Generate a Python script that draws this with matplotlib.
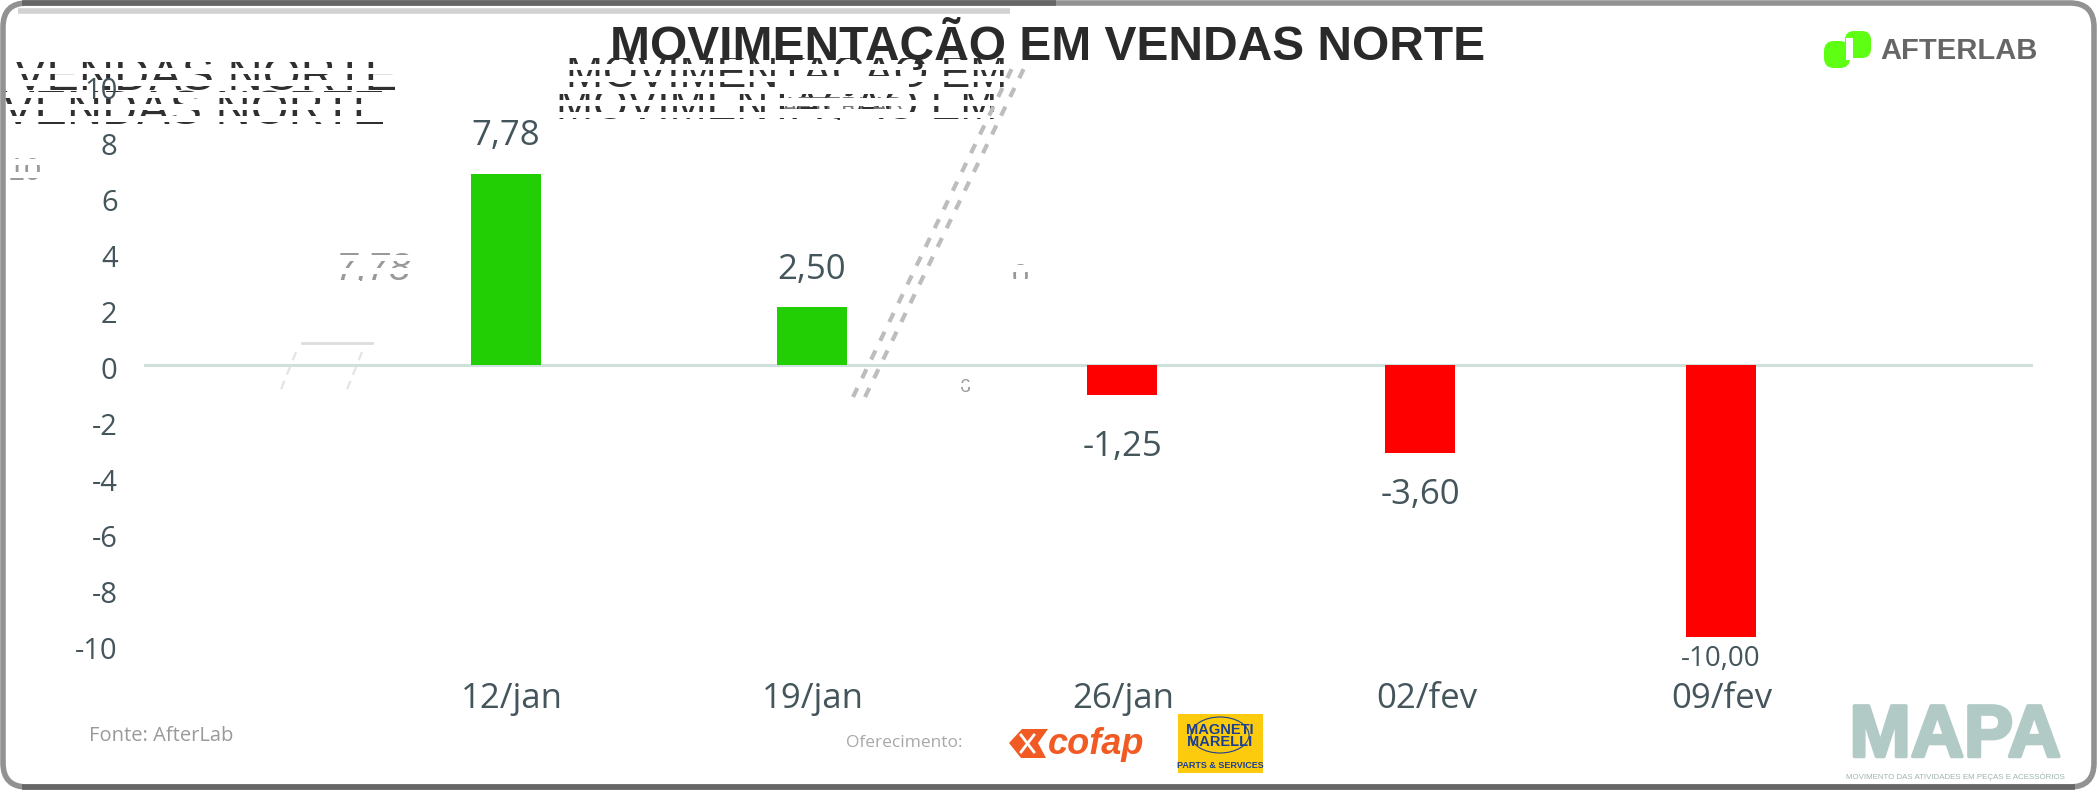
#! /usr/bin/env python3
# -*- coding: utf-8 -*-

import matplotlib
matplotlib.use("Agg")
import matplotlib.pyplot as plt
import matplotlib.patheffects as pe
from matplotlib.patches import FancyBboxPatch, Polygon, Rectangle, Ellipse
from matplotlib.transforms import ScaledTranslation

## Data

dates = ["12/jan", "19/jan", "26/jan", "02/fev", "09/fev"]
bar_values = [6.82, 2.07, -1.07, -3.14, -9.71]
value_labels = ["7,78", "2,50", "-1,25", "-3,60", "-10,00"]
y_ticks = [-10, -8, -6, -4, -2, 0, 2, 4, 6, 8, 10]

title = "MOVIMENTAÇÃO EM VENDAS NORTE"
source = "Fonte: AfterLab"
sponsor = "Oferecimento:"
mapa_caption = "MOVIMENTO DAS ATIVIDADES EM PEÇAS E ACESSÓRIOS"

## Layout (pixels of the 2097x790 picture)

W, H = 2097, 790
bar_px = [506, 812, 1122, 1420, 1721]
date_px = [512, 813, 1123, 1427, 1722]
label_gap = [38, 37, 52, 42, 22]
label_size = [25, 25, 25, 25, 20]

TEXT = "#44555c"
GREEN = "#22cf04"
RED = "#ff0000"

plt.rcParams["font.family"] = ["Open Sans", "DejaVu Sans"]

fig = plt.figure(figsize=(W / 100, H / 100), dpi=100, facecolor="white")

## Overlay in pixel coordinates, below the chart

ov = fig.add_axes([0, 0, 1, 1], zorder=0)
ov.set_xlim(0, W)
ov.set_ylim(H, 0)
ov.axis("off")


def striped(text, spots, x1, size, color, top, bottom, band, gap, style="normal"):
    # ghost copies of a text: white rows over them leave only thin rows visible
    x0 = min(s[0] for s in spots)
    for x, y in spots:
        ov.text(x, y, text, fontsize=size, color=color, style=style,
                family="Liberation Sans", ha="left", va="center", zorder=1)
    ov.add_patch(Rectangle((x0 - 4, top - 12), x1 - x0 + 8, 12, fc="white", ec="none", zorder=1.1))
    row = top + band
    while row < bottom:
        ov.add_patch(Rectangle((x0 - 4, row), x1 - x0 + 8, gap, fc="white", ec="none", zorder=1.1))
        row += band + gap
    ov.add_patch(Rectangle((x0 - 4, row), x1 - x0 + 8, 12, fc="white", ec="none", zorder=1.1))


## Ghost fragments

striped("VENDAS NORTE", [(14, 78), (2, 112)], 412, 35, "#303030", 62, 128, 6, 6)
striped("MOVIMENTAÇÃO EM", [(566, 72), (556, 104)], 1056, 32, "#303030", 58, 120, 6, 6)
striped("AFTERLAB", [(782, 108)], 905, 17, "#777777", 92, 128, 6, 5)
striped("7,78", [(336, 270)], 420, 28, "#999999", 248, 296, 7, 6, style="italic")
striped("10", [(8, 172)], 42, 22, "#999999", 152, 196, 7, 6)
striped("0", [(1012, 278)], 1034, 22, "#999999", 258, 300, 7, 7)
striped("6", [(960, 388)], 974, 14, "#999999", 378, 400, 5, 4)
striped("5", [(844, 134)], 858, 11, "#444444", 128, 146, 8, 2)

for off in (0, 12):
    ov.plot([853 + off, 1016 + off], [397, 60], color="#bdbdbd", lw=3,
            dashes=(2.4, 2.6), dash_capstyle="butt", zorder=2)
ov.plot([302, 372], [343, 343], color="#dddddd", lw=2)
for dx in (0, 66):
    ov.plot([296 + dx, 280 + dx], [352, 392], color="#e4e4e4", lw=1.6, dashes=(4, 3))

# Frame
ov.add_patch(FancyBboxPatch((3, 3), W - 6, H - 6, boxstyle="round,pad=0,rounding_size=24",
                            fc="none", ec="#929292", lw=4, zorder=3))
ov.plot([22, 1056], [3, 3], color="#666666", lw=4, solid_capstyle="butt", zorder=3)
ov.plot([22, W - 22], [787, 787], color="#666666", lw=4, solid_capstyle="butt", zorder=3)
ov.plot([18, 1010], [11, 11], color="#d2d2d2", lw=4, solid_capstyle="butt", zorder=3)

## Title and logos

ov.text(1048, 44, title, fontsize=34.5, weight="bold", color="#2a2a2a",
        family="Liberation Sans", ha="center", va="center", zorder=3)

ov.add_patch(FancyBboxPatch((1824, 41), 26, 27, boxstyle="round,pad=0,rounding_size=10",
                            fc="#5eff12", ec="none"))
ov.add_patch(FancyBboxPatch((1845, 31), 26, 27, boxstyle="round,pad=0,rounding_size=9",
                            fc="#5eff12", ec="none"))
ov.add_patch(Rectangle((1846, 38), 7, 22, fc="white", ec="none"))
ov.text(1880, 51, "AFTERLAB", fontsize=21, weight="bold", color="#666666",
        family="Liberation Sans", ha="left", va="center")

ov.text(89, 736, source, fontsize=14.5, color="#9a9a9a", ha="left", va="center")
ov.text(846, 743, sponsor, fontsize=12.5, color="#a8a8a8", ha="left", va="center")

ov.add_patch(Polygon([[1009, 743], [1022, 729], [1048, 729], [1038, 743],
                      [1046, 758], [1021, 758]], fc="#f15a22", ec="none"))
ov.plot([1021, 1034], [735, 752], color="white", lw=2)
ov.plot([1034, 1021], [735, 752], color="white", lw=2)
ov.text(1048, 744, "cofap", fontsize=26, style="italic", weight="bold", color="#f15a22",
        family="Liberation Sans", ha="left", va="center")

ov.add_patch(Rectangle((1178, 714), 85, 59, fc="#fdcb0e", ec="none"))
ov.add_patch(Ellipse((1220, 735), 58, 36, fc="#fdcb0e", ec="#1a3f94", lw=0.8))
ov.text(1220, 736, "MAGNETI\nMARELLI", fontsize=10.5, weight="bold", color="#1a3f94",
        family="Liberation Sans", ha="center", va="center", linespacing=0.9)
ov.text(1220, 766, "PARTS & SERVICES", fontsize=6.5, weight="bold", color="#1a3f94",
        family="Liberation Sans", ha="center", va="center")

ov.text(1955, 737, "MAPA", fontsize=53, weight="bold", color="#b2cac5",
        family="Liberation Sans", ha="center", va="center",
        path_effects=[pe.withStroke(linewidth=2.5, foreground="#b2cac5")])
ov.text(1955, 777, mapa_caption, fontsize=5.7, color="#9fb5b1",
        family="Liberation Sans", ha="center", va="center")

## Chart

ax_left, ax_right, y_top, y_bottom = 144, 2033, 85, 645
ax = fig.add_axes([ax_left / W, 1 - y_bottom / H, (ax_right - ax_left) / W, (y_bottom - y_top) / H],
                  zorder=1)
ax.patch.set_alpha(0)
ax.set_xlim(ax_left, ax_right)
ax.set_ylim(-10, 10)
for side in ax.spines:
    ax.spines[side].set_visible(False)

colors = [GREEN if v > 0 else RED for v in bar_values]
ax.bar(bar_px, bar_values, width=70, color=colors, zorder=2)
ax.axhline(0, color="#d0e0dc", lw=2.2, zorder=1)

ax.set_yticks(y_ticks)
ax.set_yticklabels([str(v) for v in y_ticks], fontsize=21, color=TEXT, va="center_baseline")
ax.tick_params(axis="y", length=0, pad=19)
ax.set_xticks([])
shift = ScaledTranslation(0, -3 / 100, fig.dpi_scale_trans)
for lab in ax.get_yticklabels():
    lab.set_transform(lab.get_transform() + shift)

for i in range(len(dates)):
    side = 1 if bar_values[i] > 0 else -1
    ax.annotate(value_labels[i], (bar_px[i], bar_values[i]),
                xytext=(0, side * label_gap[i] * 0.72), textcoords="offset points",
                ha="center", va="center", fontsize=label_size[i], color=TEXT)
    ov.text(date_px[i], 699, dates[i], fontsize=25, color=TEXT, ha="center", va="center")

fig.savefig("out.png", dpi=100)
